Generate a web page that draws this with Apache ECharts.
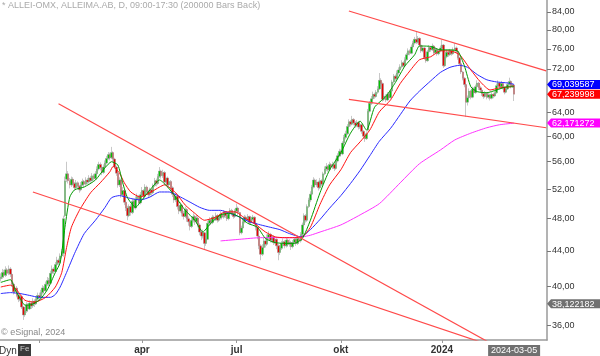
<!DOCTYPE html>
<html><head><meta charset="utf-8">
<script src="https://cdn.jsdelivr.net/npm/echarts@6/dist/echarts.min.js"></script>
<style>html,body{margin:0;padding:0;background:#fff}#c{width:600px;height:356px}</style>
</head><body><div id="c"></div>
<script>
// ---- data ----
const startDate = '2022-11-28';
const barCount = 341; // trading days on the axis (incl. empty future days)
const holidays = ['2022-12-26','2023-01-06','2023-04-07','2023-04-10','2023-05-01','2023-05-18','2023-06-06','2023-06-23','2023-12-25','2023-12-26','2024-01-01','2024-03-29','2024-04-01'];
const monthTicks = [['2023-01-02',''],['2023-04-03','apr'],['2023-07-03','jul'],['2023-10-02','okt'],['2024-01-02','2024']];
const yTicks = [36,40,44,48,52,56,60,64,72,76,80,84];
const yRange = [34.57, 86.75];
// daily candles [open, close, low, high]
const ohlc = [
[40.8,41.0,40.5,41.4],[41.0,41.5,40.8,41.9],[41.5,41.2,40.9,41.8],[41.2,41.8,41.0,42.2],[41.8,41.4,41.1,42.0],
[41.4,41.9,41.2,42.3],[41.9,41.3,41.0,42.1],[41.3,40.2,39.9,41.5],[40.2,39.4,39.1,40.4],[39.4,39.8,39.2,40.1],
[39.8,39.0,38.8,40.0],[39.0,38.6,38.3,39.2],[38.6,38.9,38.4,39.2],[38.9,37.8,37.6,39.0],[37.8,37.0,36.5,37.9],
[37.0,37.4,36.8,37.7],[37.4,38.0,37.2,38.3],[38.0,37.6,37.3,38.2],[37.6,38.2,37.5,38.5],[38.2,37.9,37.6,38.4],
[37.9,38.4,37.7,38.7],[38.4,38.1,37.8,38.6],[38.1,38.6,38.0,38.9],[38.6,39.0,38.4,39.3],[39.0,38.8,38.5,39.3],
[38.8,39.3,38.6,39.6],[39.3,39.8,39.1,40.1],[39.8,39.5,39.2,40.0],[39.5,40.2,39.4,40.5],[40.2,40.6,40.0,41.0],
[40.6,40.3,40.0,40.9],[40.3,41.4,40.2,41.7],[41.4,41.9,41.2,42.3],[41.9,41.6,41.3,42.1],[41.6,42.4,41.5,42.7],
[42.4,42.9,42.2,43.3],[42.9,42.6,42.3,43.1],[42.6,43.4,42.5,43.7],[43.4,43.9,43.2,44.2],[43.7,48.0,43.3,48.4],
[48.4,53.2,48.2,53.8],[53.4,54.2,53.0,56.0],[54.2,53.2,52.8,54.6],[53.2,52.6,52.1,53.6],[52.6,53.4,52.3,53.8],
[53.4,52.8,52.5,53.7],[52.8,52.2,51.8,53.0],[52.2,52.9,52.0,53.3],[52.9,52.4,52.0,53.1],[52.4,51.9,51.5,52.6],
[51.9,52.6,51.7,53.0],[52.6,53.1,52.4,53.5],[53.1,52.7,52.3,53.3],[52.7,53.3,52.5,53.7],[53.3,53.0,52.7,53.6],
[53.0,53.6,52.8,54.0],[53.6,53.2,52.9,53.9],[53.2,53.9,53.1,54.3],[53.9,53.5,53.2,54.2],[53.5,54.2,53.3,54.6],
[54.2,54.9,54.0,55.3],[54.9,55.6,54.7,56.0],[55.6,55.1,54.7,55.9],[55.1,54.4,54.0,55.3],[54.4,55.2,54.2,55.6],
[55.2,55.8,55.0,56.2],[55.8,56.5,55.6,56.9],[56.5,57.1,56.3,57.5],[57.1,56.6,56.2,57.4],[56.6,57.4,56.4,58.3],
[57.4,56.4,56.0,57.6],[56.4,55.2,54.9,56.6],[55.2,54.3,53.9,55.4],[54.3,52.6,52.2,54.5],[52.6,53.3,52.3,53.7],
[53.3,51.2,50.8,53.5],[51.2,51.8,50.9,52.3],[51.8,50.2,49.8,52.0],[50.2,49.4,49.0,50.5],[49.4,48.4,47.8,49.7],
[48.4,49.6,48.2,49.9],[49.6,48.8,48.4,49.9],[48.8,50.3,48.6,50.7],[50.3,49.4,49.0,50.6],[49.4,50.6,49.2,51.0],
[50.6,51.0,50.3,51.4],[51.0,50.1,49.8,51.2],[50.1,51.2,49.9,51.6],[51.2,51.8,51.0,52.3],[51.8,51.0,50.6,52.0],
[51.0,52.3,50.8,52.7],[52.3,51.6,51.2,52.5],[51.6,51.2,50.8,51.9],[51.2,51.9,51.0,52.2],[51.9,51.5,51.1,52.1],
[51.5,52.5,51.3,52.8],[52.5,53.2,52.3,53.6],[53.2,52.8,52.4,53.5],[52.8,53.8,52.6,54.2],[53.8,54.6,53.6,55.2],
[54.6,53.9,53.5,54.8],[53.9,54.4,53.6,54.8],[54.4,53.0,52.6,54.6],[53.0,53.6,52.8,54.0],[53.6,52.6,52.2,53.8],
[52.6,53.1,52.3,53.5],[53.1,52.2,51.8,53.3],[52.2,51.3,50.9,52.4],[51.3,50.5,50.1,51.5],[50.5,51.0,50.2,51.4],
[51.0,49.6,49.2,51.2],[49.6,49.0,48.6,49.9],[49.0,49.8,48.8,50.2],[49.8,48.7,48.3,50.0],[48.7,48.3,47.9,49.0],
[48.3,49.2,48.1,49.6],[49.2,48.0,47.6,49.4],[48.0,47.6,47.1,48.3],[47.6,47.0,46.5,47.8],[47.0,47.8,46.8,48.2],
[47.8,48.3,47.5,48.7],[48.3,47.6,47.2,48.5],[47.6,48.1,47.3,48.5],[48.1,47.2,46.9,48.3],[47.2,46.3,45.9,47.4],
[46.3,45.8,45.3,46.6],[45.8,46.2,45.5,46.6],[46.2,44.9,44.1,46.3],[44.9,45.4,44.6,45.8],[45.4,47.4,45.3,47.7],
[47.4,47.8,47.1,48.2],[47.8,47.5,47.2,48.0],[47.5,48.2,47.3,48.5],[48.2,47.9,47.6,48.4],[47.9,48.4,47.7,48.8],
[48.4,47.8,47.5,48.6],[47.8,48.1,47.6,48.4],[48.1,48.6,47.9,49.0],[48.6,48.2,47.9,48.8],[48.2,48.8,48.0,49.1],
[48.8,48.4,48.1,49.0],[48.4,48.0,47.7,48.6],[48.0,48.6,47.8,48.9],[48.6,49.1,48.4,49.4],[49.1,48.7,48.4,49.3],
[48.7,48.3,48.0,48.9],[48.3,49.0,48.1,49.3],[49.0,49.4,48.8,50.0],[49.4,48.8,48.5,49.6],[48.8,46.2,45.9,48.9],
[46.2,46.8,46.0,47.1],[46.8,47.6,46.6,47.9],[47.6,48.2,47.4,48.5],[48.2,47.8,47.5,48.4],[47.8,48.3,47.6,48.6],
[48.3,47.5,47.2,48.4],[47.5,47.9,47.3,48.2],[47.9,48.2,47.7,48.5],[48.2,47.4,47.1,48.3],[47.4,46.9,46.5,47.6],
[46.9,45.8,45.4,47.0],[45.8,44.6,44.2,46.0],[44.6,43.6,42.9,44.8],[43.6,44.4,43.4,44.8],[44.4,45.2,44.2,45.6],
[45.2,44.8,44.4,45.5],[44.8,45.6,44.6,46.0],[45.6,46.0,45.3,46.4],[46.0,45.3,45.0,46.2],[45.3,45.7,45.0,46.0],
[45.7,45.0,44.7,45.9],[45.0,45.4,44.8,45.7],[45.4,44.6,44.2,45.5],[44.6,43.8,42.9,44.8],[43.8,44.3,43.5,44.7],
[44.3,44.9,44.1,45.2],[44.9,45.1,44.6,45.5],[45.1,44.6,44.3,45.3],[44.6,45.3,44.4,45.6],[45.3,44.8,44.5,45.5],
[44.8,45.0,44.5,45.4],[45.0,44.5,44.1,45.2],[44.5,45.0,44.3,45.3],[45.0,45.4,44.8,45.7],[45.4,44.9,44.6,45.6],
[44.9,45.5,44.7,45.8],[45.5,45.2,44.9,45.7],[45.2,46.0,45.0,46.3],[46.0,47.2,45.8,47.5],[47.2,48.4,47.0,48.7],
[48.4,47.8,47.5,48.6],[47.8,49.6,47.6,49.9],[49.6,50.5,49.4,50.8],[50.5,51.3,50.2,51.7],[51.3,52.3,51.1,52.6],
[52.3,53.3,52.1,53.7],[53.3,52.6,52.2,53.5],[52.6,53.0,52.3,53.4],[53.0,52.2,51.8,53.2],[52.2,53.2,52.0,53.6],
[53.2,52.7,52.4,53.4],[52.7,54.2,52.5,54.5],[54.2,54.9,54.0,55.3],[54.9,55.3,54.6,55.8],[55.3,54.8,54.5,55.5],
[54.8,55.6,54.6,56.0],[55.6,55.2,54.9,55.8],[55.2,55.6,54.9,56.0],[55.6,55.0,54.6,55.8],[55.0,56.1,54.8,56.5],
[56.1,56.9,55.9,57.3],[56.9,57.6,56.7,58.0],[57.6,57.2,56.8,57.9],[57.2,58.9,57.0,59.2],[58.9,59.8,58.7,60.2],
[59.8,60.4,59.5,60.9],[60.4,61.6,60.2,62.0],[61.6,62.4,61.4,62.8],[62.4,62.0,61.6,62.7],[62.0,62.8,61.8,63.4],
[62.8,62.2,61.8,63.0],[62.2,61.8,61.4,62.5],[61.8,62.3,61.5,62.7],[62.3,61.5,61.1,62.5],[61.5,61.9,61.2,62.3],
[61.9,60.8,60.4,62.0],[60.8,60.0,59.6,61.0],[60.0,59.6,59.1,60.3],[59.6,60.4,59.4,60.8],[61.0,64.2,60.8,64.6],
[64.2,65.6,64.0,66.0],[65.6,66.4,65.3,66.9],[66.4,67.2,66.1,67.7],[67.2,66.8,66.4,67.5],[66.8,67.6,66.6,68.0],
[67.6,68.2,67.3,68.7],[68.2,69.8,68.0,71.2],[69.8,69.2,68.8,70.2],[69.2,66.3,65.9,69.4],[66.3,66.9,66.0,67.4],
[66.9,66.2,65.8,67.2],[66.2,67.2,66.0,67.6],[67.2,66.6,66.2,67.5],[66.6,67.8,66.4,68.2],[67.8,69.5,67.6,69.9],
[69.5,70.6,69.2,71.0],[70.6,70.1,69.7,70.9],[70.1,71.2,69.9,71.7],[71.2,71.8,70.9,72.3],[71.8,72.4,71.5,72.9],
[72.4,73.2,72.1,73.7],[73.2,72.6,72.2,73.5],[72.6,73.8,72.4,74.3],[73.8,74.8,73.6,75.2],[74.8,75.6,74.5,76.1],
[75.6,75.1,74.7,75.9],[75.1,76.4,74.9,76.9],[76.4,77.2,76.1,77.7],[77.2,78.0,76.9,78.5],[78.0,77.4,77.0,79.6],
[77.4,78.2,77.1,78.7],[78.2,76.8,76.4,78.4],[76.8,75.6,75.2,77.0],[75.6,76.2,75.3,76.7],[76.2,74.2,73.8,76.4],
[74.2,73.6,73.2,74.5],[73.6,75.4,73.4,75.8],[75.4,76.3,75.1,76.8],[76.3,75.8,75.4,76.6],[75.8,76.6,75.6,77.1],
[76.6,75.2,74.8,76.8],[75.2,75.9,74.9,76.3],[75.9,75.0,74.6,76.1],[75.0,75.6,74.7,76.0],[75.6,76.2,75.3,76.7],
[76.2,76.8,75.9,77.9],[76.8,72.6,72.2,77.0],[72.6,74.4,72.4,74.8],[74.4,75.3,74.1,75.7],[75.3,74.8,74.4,75.6],
[74.8,75.6,74.6,76.0],[75.6,75.0,74.6,75.9],[75.0,75.8,74.8,76.3],[75.8,76.2,75.5,77.2],[76.2,75.5,75.1,76.5],
[75.5,74.2,73.8,75.7],[74.2,73.0,72.6,74.4],[73.0,71.4,71.0,73.2],[71.4,70.2,69.8,71.6],[70.2,69.0,68.5,70.4],
[69.0,65.8,63.2,69.2],[65.8,66.6,65.2,67.0],[66.6,67.8,66.4,68.3],[67.8,66.7,66.3,68.0],[66.7,68.2,66.5,68.6],
[68.2,67.5,67.1,68.5],[67.5,68.6,67.3,69.0],[68.6,69.3,68.3,69.8],[69.3,68.4,68.0,69.5],[68.4,68.0,67.6,68.7],
[68.0,67.3,66.9,68.2],[67.3,66.8,66.4,67.6],[66.8,67.4,66.6,67.8],[67.4,66.7,66.3,67.6],[66.7,67.1,66.4,67.5],
[67.1,66.5,66.1,67.3],[66.5,67.2,66.3,67.6],[67.2,66.9,66.5,67.5],[66.9,67.5,66.7,67.9],[67.5,68.8,67.3,69.2],
[68.8,69.3,68.5,69.8],[69.3,68.6,68.2,69.5],[68.6,69.2,68.4,69.7],[69.2,68.5,68.1,69.4],[68.5,67.6,67.2,68.7],
[67.6,68.2,67.4,68.6],[68.2,69.0,68.0,69.5],[69.0,69.6,68.7,70.3],[69.6,68.7,68.3,69.8],[68.7,68.9,68.4,69.3],
[68.9,67.24,66.0,69.1]
];
// moving averages: [bar number, price]
const maFast = [[0,40.4],[6,40.7],[9,39.6],[12,38.7],[15,38.0],[18,38.0],[24,38.5],[29,39.6],[34,41.5],[37,42.6],[40,46.9],[43,50.9],[46,51.9],[52,52.3],[59,53.3],[65,55.1],[69,56.0],[73,55.5],[76,52.9],[79,50.8],[84,49.5],[88,50.5],[93,51.9],[99,53.3],[104,52.3],[109,50.9],[115,49.1],[121,47.8],[126,46.3],[130,47.2],[137,48.5],[143,48.7],[149,48.2],[154,47.4],[160,46.9],[165,45.5],[171,45.0],[177,44.9],[183,44.9],[188,45.5],[193,47.8],[199,51.5],[205,54.8],[212,57.4],[218,60.5],[224,62.5],[228,61.0],[233,64.9],[240,66.8],[246,69.4],[252,72.6],[258,74.8],[261,76.6],[268,76.5],[274,75.8],[280,75.8],[285,75.5],[289,72.6],[293,68.6],[297,67.7],[303,67.5],[309,68.0],[316,68.6],[320,68.6]];
const maMid = [[0,39.9],[6,40.1],[9,39.8],[15,38.5],[21,38.3],[28,38.8],[34,39.9],[38,41.5],[41,44.4],[44,46.9],[49,49.1],[56,51.5],[62,52.9],[68,54.5],[70,55.3],[74,54.3],[77,52.9],[81,51.6],[87,50.9],[93,51.5],[99,52.3],[102,52.6],[109,51.5],[115,49.8],[121,48.7],[127,47.8],[134,48.2],[140,48.9],[146,48.9],[152,48.1],[158,47.4],[165,46.3],[171,45.7],[177,45.6],[183,45.6],[188,45.7],[193,46.9],[199,49.9],[205,52.6],[212,54.8],[218,57.4],[224,59.1],[230,61.0],[236,64.1],[243,66.2],[249,69.2],[255,71.6],[261,73.8],[268,74.4],[274,75.6],[280,75.6],[286,74.8],[293,71.8],[299,69.5],[305,68.0],[311,68.4],[318,68.6],[320,68.8]];
const maSlow = [[0,39.2],[6,39.3],[12,39.2],[18,39.0],[24,38.8],[31,38.8],[34,39.1],[37,39.9],[41,41.5],[46,43.7],[52,46.1],[59,47.8],[65,49.5],[69,50.8],[74,51.1],[81,50.7],[87,50.5],[93,50.9],[99,51.6],[105,51.6],[112,50.9],[118,50.2],[124,49.5],[130,49.1],[137,49.1],[143,48.7],[149,48.2],[155,47.6],[162,47.2],[168,46.9],[174,46.6],[180,46.1],[187,45.7],[193,46.6],[199,47.9],[205,49.4],[212,51.1],[218,52.8],[224,54.7],[230,56.9],[236,59.2],[243,61.3],[249,63.6],[255,66.0],[261,67.8],[268,69.7],[274,71.3],[280,72.3],[286,72.7],[291,72.3],[297,70.9],[303,69.9],[309,69.5],[316,69.3],[320,69.04]];
const ma200 = [[137,45.2],[149,45.4],[162,45.6],[174,45.6],[183,45.6],[188,45.7],[193,45.9],[199,46.3],[212,47.2],[224,48.5],[236,50.0],[249,52.9],[261,55.7],[274,57.8],[283,59.4],[293,60.5],[303,61.4],[311,61.9],[320,62.17]];
// trend lines: [[bar, price],[bar, price]]
const trendLines = [
  [[36,65.5],[320,33.08]],
  [[20,51.6],[320,33.35]],
  [[217,84.2],[340,71.6]],
  [[217,66.3],[340,61.4]]
];
const lastTags = [
  {v:69.039587, color:'#0000ff', text:'#ffffff'},
  {v:67.239998, color:'#ff0000', text:'#ffffff'},
  {v:62.171272, color:'#ff00ff', text:'#ffffff'},
  {v:38.122182, color:'#707070', text:'#ffffff'}
];
const titleText = '* ALLEI-OMX, ALLEIMA.AB, D, 09:00-17:30 (200000 Bars Back)';
const lastDate = '2024-03-05';

// ---- build ----
const cats = [];
{
  const d = new Date(startDate + 'T00:00:00Z');
  while (cats.length < barCount) {
    const wd = d.getUTCDay();
    const s = d.toISOString().slice(0, 10);
    if (wd !== 0 && wd !== 6 && holidays.indexOf(s) < 0) cats.push(s);
    d.setUTCDate(d.getUTCDate() + 1);
  }
}
const tickMap = {};
monthTicks.forEach(([d, l]) => tickMap[d] = l);
const L = Math.log;
const fmt = (v, n) => v.toFixed(n).replace('.', ',');
const FONT = '"Liberation Sans", Arial, sans-serif';

const lineSeries = (data, color, z) => ({
  type: 'line', data: data.map(([i, p]) => [cats[i], L(p)]),
  symbol: 'none', smooth: 0.2, silent: true, z: z,
  lineStyle: {color: color, width: 1}
});

const series = [
  {
    type: 'candlestick', data: ohlc.map(r => r.map(L)), barWidth: 2, z: 2,
    itemStyle: {color: '#00c400', color0: '#e80000', borderColor: '#909090', borderColor0: '#909090', borderWidth: 0.5}
  },
  lineSeries(ma200, '#ff33ff', 3),
  lineSeries(maSlow, '#2a2aff', 4),
  lineSeries(maMid, '#ff1010', 5),
  lineSeries(maFast, '#009a00', 6)
];
trendLines.forEach(t => series.push({
  type: 'line', data: t.map(([i, p]) => [cats[i], L(p)]), symbol: 'none', clip: true, silent: true, z: 7,
  lineStyle: {color: '#ff4a4a', width: 1.2}
}));

const chart = echarts.init(document.getElementById('c'));
chart.setOption({
  animation: false,
  backgroundColor: '#ffffff',
  grid: {left: 0, right: 53, top: 0, bottom: 16},
  xAxis: {
    type: 'category', data: cats, boundaryGap: true,
    axisLine: {lineStyle: {color: '#9a9a9a', width: 1.5}},
    axisTick: {show: true, alignWithLabel: true, length: 3, interval: (i, v) => v in tickMap, lineStyle: {color: '#9a9a9a'}},
    axisLabel: {interval: (i, v) => !!tickMap[v], formatter: v => tickMap[v] || '', color: '#333', fontSize: 10, fontWeight: 'bold', fontFamily: FONT, margin: 5},
    splitLine: {show: false}
  },
  yAxis: {
    type: 'value', position: 'right', min: L(yRange[0]), max: L(yRange[1]), scale: true,
    axisLine: {show: true, lineStyle: {color: '#9a9a9a', width: 1.5}},
    axisTick: {show: true, length: 4, customValues: yTicks.map(L), lineStyle: {color: '#777'}},
    axisLabel: {customValues: yTicks.map(L), formatter: v => fmt(Math.exp(v), 2), color: '#333', fontSize: 9, fontFamily: FONT, margin: 5, align: 'left'},
    splitLine: {show: false}
  },
  series: series
});

// overlays: value tags on the price axis, date box, texts
const gx = 547;
const g = [];
g.push({type: 'text', left: 2, top: 1, style: {text: titleText, fill: '#aaaaaa', fontSize: 9, fontFamily: FONT}});
g.push({type: 'text', left: 1, top: 328, style: {text: '\u00a9 eSignal, 2024', fill: '#888888', fontSize: 9, fontFamily: FONT}});
g.push({type: 'text', left: -1, top: 346, style: {text: 'Dyn', fill: '#333', fontSize: 10, fontFamily: FONT}});
g.push({type: 'rect', shape: {x: 18, y: 344, width: 13, height: 12}, style: {fill: '#3a3a3a'}});
g.push({type: 'text', left: 20, top: 345, style: {text: 'Fe', fill: '#cfcfcf', fontSize: 8, fontFamily: FONT}});
lastTags.forEach(t => {
  const y = chart.convertToPixel({yAxisIndex: 0}, L(t.v));
  g.push({type: 'polygon', shape: {points: [[gx, y], [gx + 4, y - 4.5], [gx + 53, y - 4.5], [gx + 53, y + 4.5], [gx + 4, y + 4.5]]}, style: {fill: t.color}, z: 20});
  g.push({type: 'text', x: gx + 5, y: y + 0.5, style: {text: fmt(t.v, 6), fill: t.text, fontSize: 9, fontFamily: FONT, verticalAlign: 'middle'}, z: 21});
});
{
  const x = chart.convertToPixel({xAxisIndex: 0}, lastDate);
  g.push({type: 'rect', shape: {x: x - 26, y: 345, width: 52, height: 11}, style: {fill: '#707070'}, z: 20});
  g.push({type: 'text', x: x, y: 350.5, style: {text: lastDate, fill: '#ffffff', fontSize: 9, fontFamily: FONT, align: 'center', verticalAlign: 'middle'}, z: 21});
}
chart.setOption({graphic: g});
</script>
</body></html>
